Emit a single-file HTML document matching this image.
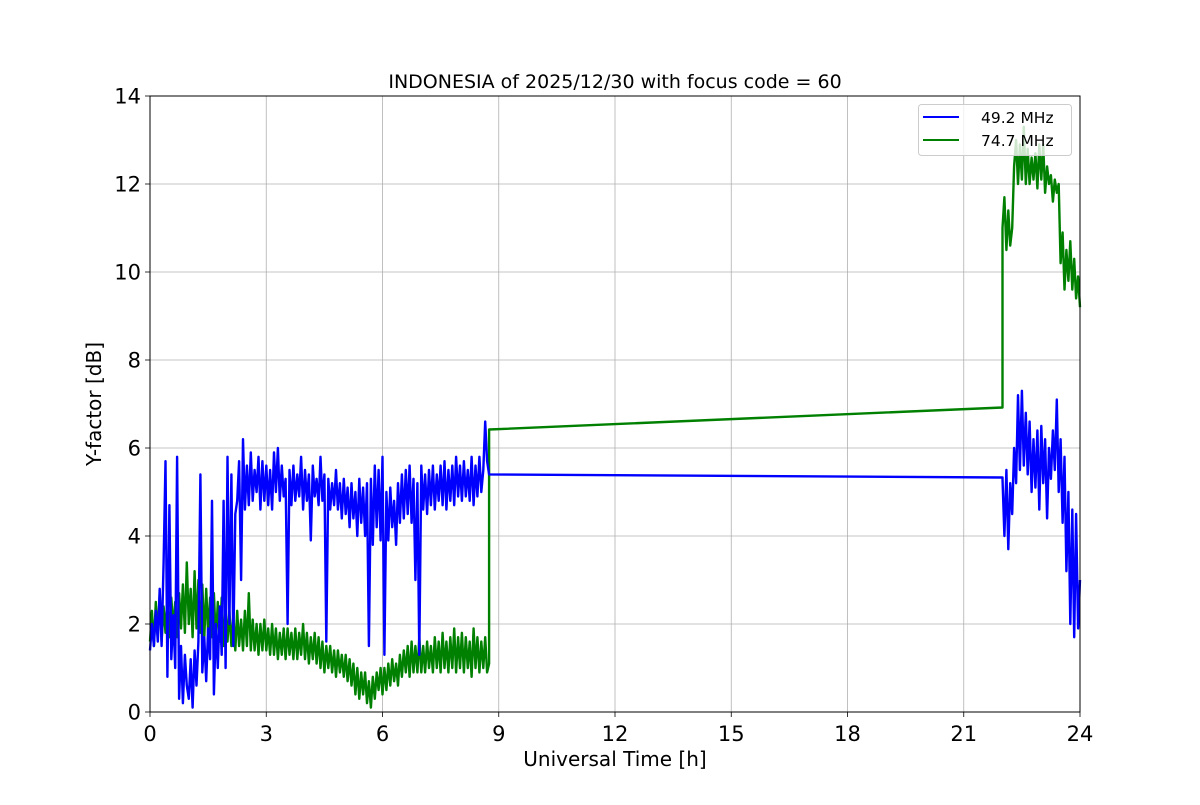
<!DOCTYPE html>
<html><head><meta charset="utf-8"><style>
body{margin:0;background:#fff}
svg text{font-family:"DejaVu Sans","Liberation Sans",sans-serif}
</style></head><body>
<svg id="chart" width="1200" height="800">
<rect width="1200" height="800" fill="#fff"/>
<g id="grid"></g><g id="series"></g><g id="axes"></g>
</svg>
<script>
const xTicks=[0,3,6,9,12,15,18,21,24];
const yTicks=[0,2,4,6,8,10,12,14];
const seriesStep=0.05;
const blueStart1=0;
const blueVals1=[1.4,2.0,1.5,2.3,1.6,2.8,1.5,3.4,5.7,0.8,4.7,1.2,2.2,1.0,5.8,0.3,1.5,0.2,1.3,0.6,
0.3,1.2,0.1,1.4,0.6,1.6,5.4,0.9,1.7,0.7,1.9,1.2,4.8,0.4,2.0,1.0,2.4,1.3,4.8,1.0,
5.8,2.0,5.4,1.5,4.5,4.8,5.7,3.0,6.2,4.6,5.6,4.7,5.9,4.8,5.5,5.0,5.8,4.6,5.7,4.8,
5.6,4.7,5.5,4.6,5.9,5.0,6.0,4.8,5.6,4.9,5.3,2.0,5.5,4.7,5.6,4.8,5.4,4.9,5.8,4.6,
5.5,4.8,5.4,3.9,5.6,4.9,5.3,4.7,5.8,4.8,5.4,1.6,5.3,4.6,5.2,4.7,5.5,4.6,5.2,4.4,
5.3,4.5,5.1,4.2,5.2,4.4,5.0,4.0,5.3,4.3,5.1,4.0,5.2,1.5,5.3,3.8,5.6,4.2,5.5,3.9,
5.8,1.3,5.0,3.9,5.1,4.2,4.8,3.8,5.2,4.3,5.4,4.4,5.5,4.5,5.6,4.3,5.3,3.0,5.2,1.3,
5.6,4.6,5.4,4.5,5.5,4.7,5.6,4.6,5.4,4.8,5.6,4.7,5.7,4.6,5.5,4.8,5.6,4.7,5.8,4.9,
5.6,4.8,5.7,4.9,5.5,4.8,5.8,4.7,5.6,4.9,5.8,5.0,5.5,6.6,5.7,5.4];
const blueLinkT=[8.75,22.0];
const blueLinkV=[5.4,5.33];
const blueStart2=22.0;
const blueVals2=[5.3,4.0,5.5,3.7,5.2,4.5,6.0,5.2,7.2,5.5,7.3,5.6,6.8,5.4,6.6,5.0,6.2,5.1,6.4,4.6,
6.5,5.2,6.2,4.4,6.0,5.3,6.4,5.5,7.1,5.0,6.2,4.3,5.8,3.2,5.0,2.0,4.6,1.7,4.5,1.9,3.0];
const greenStart1=0;
const greenVals1=[1.6,2.3,1.5,2.5,1.7,2.7,1.6,2.4,1.8,2.6,1.7,2.6,1.9,2.5,1.7,2.7,1.9,2.9,1.8,3.4,
2.0,2.8,1.7,3.2,1.9,3.0,1.8,2.9,1.7,2.8,1.8,2.6,1.7,2.7,1.6,2.5,1.6,2.6,1.5,2.4,
1.6,2.3,1.5,2.2,1.4,2.3,1.5,2.1,1.4,2.3,1.5,2.7,1.4,2.1,1.4,2.0,1.3,2.0,1.4,2.1,
1.4,1.9,1.3,2.0,1.3,1.9,1.2,1.8,1.3,1.9,1.2,1.9,1.3,1.8,1.2,1.9,1.2,1.8,1.3,2.0,
1.2,1.8,1.1,1.7,1.2,1.8,1.1,1.7,1.0,1.6,0.9,1.5,1.0,1.5,0.9,1.4,0.8,1.4,0.9,1.3,
0.8,1.3,0.7,1.2,0.6,1.1,0.4,1.0,0.3,0.9,0.4,0.9,0.2,0.7,0.1,0.8,0.3,0.9,0.5,1.0,
0.4,1.0,0.5,1.1,0.6,1.2,0.7,1.1,0.6,1.3,0.8,1.4,0.9,1.5,0.8,1.6,0.9,1.5,0.9,1.7,
0.9,1.5,0.9,1.6,1.0,1.5,0.9,1.7,1.0,1.6,0.9,1.8,1.0,1.6,0.9,1.7,1.0,1.9,0.9,1.7,
1.0,1.8,0.9,1.7,1.0,1.6,0.8,1.9,1.0,1.7,0.9,1.6,1.0,1.7,0.9,1.1];
const greenLinkT=[8.75,8.75,22.0,22.0];
const greenLinkV=[1.1,6.42,6.92,11.0];
const greenStart2=22.0;
const greenVals2=[11.0,11.7,10.5,11.4,10.6,11.0,12.4,13.0,12.0,12.9,12.1,13.3,12.0,12.8,12.0,12.6,12.1,12.7,11.9,12.9,
12.1,12.9,11.8,12.4,12.0,12.2,11.6,12.1,11.8,12.0,10.2,10.9,9.6,10.5,9.8,10.7,9.6,10.3,9.4,9.9,9.2];

const X0=150,X1=1080,Y0=712,Y1=96;
const sx=t=>X0+(t-0)/(24-0)*(X1-X0);
const sy=v=>Y0-(v-0)/(14-0)*(Y0-Y1);
const NS="http://www.w3.org/2000/svg";
function mk(tag,attrs,parent){const e=document.createElementNS(NS,tag);for(const k in attrs)e.setAttribute(k,attrs[k]);parent.appendChild(e);return e;}
const grid=document.getElementById('grid'),series=document.getElementById('series'),axes=document.getElementById('axes');
xTicks.forEach(t=>{
 const l=mk('line',{x1:sx(t),x2:sx(t),y1:Y1,y2:Y0,stroke:'#b0b0b0','stroke-width':0.8},grid);
 
 
 mk('line',{x1:sx(t),x2:sx(t),y1:Y0,y2:Y0+5,stroke:'#000','stroke-width':0.8},axes);
 const tx=mk('text',{x:sx(t),y:Y0+29,'text-anchor':'middle','font-size':21},axes);tx.textContent=t;
 
 
});
yTicks.forEach(v=>{
 const l=mk('line',{x1:X0,x2:X1,y1:sy(v),y2:sy(v),stroke:'#b0b0b0','stroke-width':0.8},grid);
 
 
 mk('line',{x1:X0-5,x2:X0,y1:sy(v),y2:sy(v),stroke:'#000','stroke-width':0.8},axes);
 const tx=mk('text',{x:X0-9,y:sy(v)+7.5,'text-anchor':'end','font-size':21},axes);tx.textContent=v;
 
 
});
function pts(start,vals){return vals.map((v,i)=>sx(start+i*seriesStep).toFixed(1)+','+sy(v).toFixed(1));}
function linkPts(ts,vs){return ts.map((t,i)=>sx(t).toFixed(1)+','+sy(vs[i]).toFixed(1));}
function drawSeries(color,name,s1,v1,lt,lv,s2,v2){
 const p=[...pts(s1,v1),...linkPts(lt,lv),...pts(s2,v2)].join(' ');
 const pl=mk('polyline',{points:p,fill:'none',stroke:color,'stroke-width':2.4,'stroke-linejoin':'round'},series);
 
 
}
drawSeries('#008000','series-74-7-mhz',greenStart1,greenVals1,greenLinkT,greenLinkV,greenStart2,greenVals2);
drawSeries('#0000ff','series-49-2-mhz',blueStart1,blueVals1,blueLinkT,blueLinkV,blueStart2,blueVals2);
</script>
<svg width="1200" height="800" style="position:absolute;left:0;top:0">
<rect x="150" y="96" width="930" height="616" fill="none" stroke="#000" stroke-width="1"/>
<text x="615" y="88" text-anchor="middle" font-size="19">INDONESIA of 2025/12/30 with focus code = 60</text>
<text x="615" y="766" text-anchor="middle" font-size="20">Universal Time [h]</text>
<text x="0" y="0" transform="translate(101,404) rotate(-90)" text-anchor="middle" font-size="20">Y-factor [dB]</text>
<g>
<rect x="918.5" y="104.5" width="153" height="51" rx="3" fill="#fff" fill-opacity="0.8" stroke="#ccc"/>
<line x1="923" x2="959" y1="117" y2="117" stroke="#0000ff" stroke-width="2"/>
<text x="981" y="123" font-size="15.5">49.2 MHz</text>
<line x1="923" x2="959" y1="140" y2="140" stroke="#008000" stroke-width="2"/>
<text x="981" y="146" font-size="15.5">74.7 MHz</text>
</g>
</svg>
</body></html>
